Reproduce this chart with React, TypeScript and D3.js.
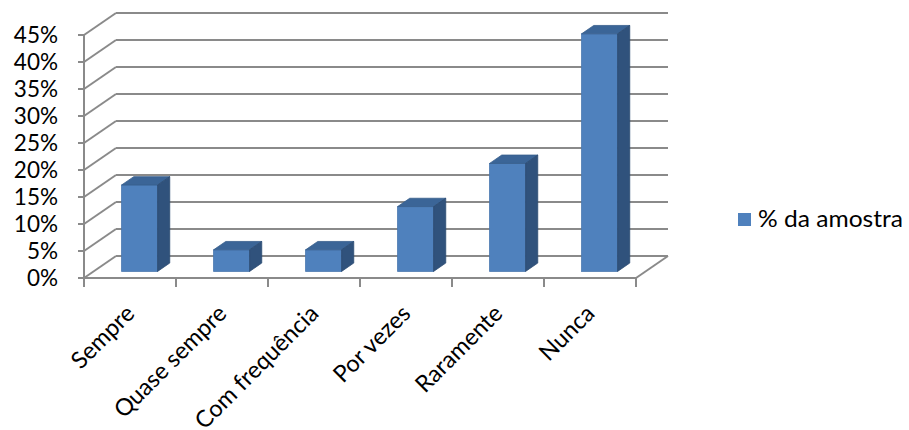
import React from "react";
import * as d3 from "d3";

const categories = ["Sempre", "Quase sempre", "Com frequência", "Por vezes", "Raramente", "Nunca"];
const values = [0.16, 0.04, 0.04, 0.12, 0.2, 0.44];
const yTicks = [0, 0.05, 0.1, 0.15, 0.2, 0.25, 0.3, 0.35, 0.4, 0.45];
const seriesName = "% da amostra";

const W = 909;
const H = 430;
const DX = 32;
const DY = -22;
const zFront = 0.3;
const zBack = 0.68;
const FONT = "Lato, 'Open Sans', sans-serif";
const FS = 22.5;

export default function App() {
  const x = d3.scaleBand<string>().domain(categories).range([84, 636]).paddingInner(0).paddingOuter(0);
  const y = d3.scaleLinear().domain([0, 0.45]).range([278, 35]);
  const bw = 36;
  const grid = "#8a8a8a";
  const fmt = d3.format(".0%");
  const x0 = x.range()[0];
  const x1 = x.range()[1];
  const bounds = categories.map((c) => x(c) as number).concat([x1]);

  return (
    <svg width={W} height={H} style={{ position: "absolute", left: 0, top: 0, background: "#fff" }}>
      {/* left wall and back wall gridlines */}
      {yTicks.map((t) => (
        <g key={t}>
          <line x1={x0} y1={y(t)} x2={x0 + DX} y2={y(t) + DY} stroke={grid} strokeWidth={2} />
          <line x1={x0 + DX} y1={y(t) + DY} x2={x1 + DX} y2={y(t) + DY} stroke={grid} strokeWidth={2} />
          <line x1={x0 - 6} y1={y(t)} x2={x0} y2={y(t)} stroke={grid} strokeWidth={2} />
          <text x={58} y={y(t)} dy="0.36em" textAnchor="end" fontFamily={FONT} fontSize={FS} fill="#000">
            {fmt(t)}
          </text>
        </g>
      ))}
      {/* floor */}
      <line x1={x0} y1={y(0)} x2={x1} y2={y(0)} stroke={grid} strokeWidth={2} />
      <line x1={x1} y1={y(0)} x2={x1 + DX} y2={y(0) + DY} stroke={grid} strokeWidth={2} />
      {/* vertical axis */}
      <line x1={x0} y1={y(0.45)} x2={x0} y2={y(0)} stroke={grid} strokeWidth={2} />
      {/* category ticks */}
      {bounds.map((b, i) => (
        <line key={i} x1={b} y1={y(0)} x2={b} y2={y(0) + 9} stroke={grid} strokeWidth={2} />
      ))}
      {/* bars */}
      {categories.map((c, i) => {
        const bx = (x(c) as number) + (x.bandwidth() - bw) / 2;
        const fx = bx + DX * zFront;
        const fyb = y(0) + DY * zFront;
        const fyt = y(values[i]) + DY * zFront;
        const ddx = DX * (zBack - zFront);
        const ddy = DY * (zBack - zFront);
        const top = `M${fx},${fyt} L${fx + bw},${fyt} L${fx + bw + ddx},${fyt + ddy} L${fx + ddx},${fyt + ddy} Z`;
        const side = `M${fx + bw},${fyt} L${fx + bw + ddx},${fyt + ddy} L${fx + bw + ddx},${fyb + ddy} L${fx + bw},${fyb} Z`;
        return (
          <g key={c}>
            <rect x={fx} y={fyt} width={bw} height={fyb - fyt} fill="#4f81bd" stroke="#4a78b0" strokeWidth={0.8} />
            <path d={top} fill="#3b6597" stroke="#375e8c" strokeWidth={0.8} />
            <path d={side} fill="#30527c" stroke="#2c4b72" strokeWidth={0.8} />
          </g>
        );
      })}
      {/* category labels */}
      {categories.map((c) => {
        const cx = (x(c) as number) + x.bandwidth() / 2 + 6;
        const cy = 315;
        return (
          <text
            key={c}
            transform={`translate(${cx},${cy}) rotate(-45)`}
            textAnchor="end"
            fontFamily={FONT}
            fontSize={23.5}
            fill="#000"
          >
            {c}
          </text>
        );
      })}
      {/* legend */}
      <rect x={738} y={213} width={13} height={13} fill="#4f81bd" />
      <text
        x={758}
        y={227}
        fontFamily={FONT}
        fontSize={FS}
        fill="#000"
        textLength={145}
        lengthAdjust="spacingAndGlyphs"
      >
        {seriesName}
      </text>
    </svg>
  );
}
